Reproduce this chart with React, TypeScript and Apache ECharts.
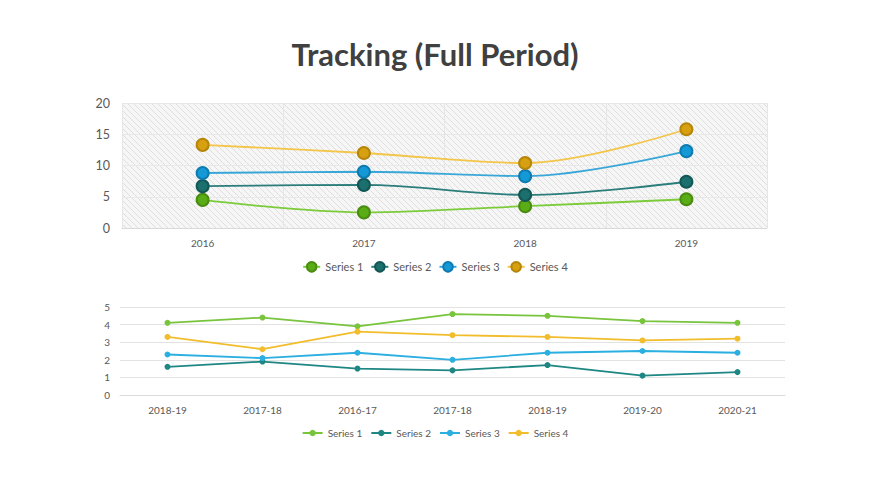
import React, { useEffect, useRef } from "react";
import * as echarts from "echarts";

const topCategories = ["2016", "2017", "2018", "2019"];
const topS1 = [4.5, 2.5, 3.5, 4.6];
const topS2 = [6.7, 6.9, 5.3, 7.4];
const topS3 = [8.8, 9.0, 8.3, 12.3];
const topS4 = [13.3, 12.0, 10.4, 15.8];

const bottomCategories = ["2018-19", "2017-18", "2016-17", "2017-18", "2018-19", "2019-20", "2020-21"];
const botS1 = [4.1, 4.4, 3.9, 4.6, 4.5, 4.2, 4.1];
const botS2 = [1.6, 1.9, 1.5, 1.4, 1.7, 1.1, 1.3];
const botS3 = [2.3, 2.1, 2.4, 2.0, 2.4, 2.5, 2.4];
const botS4 = [3.3, 2.6, 3.6, 3.4, 3.3, 3.1, 3.2];

const seriesNames = ["Series 1", "Series 2", "Series 3", "Series 4"];

const FONT = "Lato, 'Open Sans', sans-serif";

function makeHatch() {
  const c = document.createElement("canvas");
  c.width = 6;
  c.height = 6;
  const ctx = c.getContext("2d")!;
  ctx.fillStyle = "#f6f6f6";
  ctx.fillRect(0, 0, 6, 6);
  ctx.strokeStyle = "#dedede";
  ctx.lineWidth = 1;
  ctx.beginPath();
  ctx.moveTo(0, 0);
  ctx.lineTo(6, 6);
  ctx.moveTo(-3, 3);
  ctx.lineTo(3, 9);
  ctx.moveTo(3, -3);
  ctx.lineTo(9, 3);
  ctx.stroke();
  return c;
}

export default function App() {
  const topRef = useRef<HTMLDivElement>(null);
  const botRef = useRef<HTMLDivElement>(null);

  useEffect(() => {
    const top = echarts.init(topRef.current!, undefined, { renderer: "svg" });
    const bot = echarts.init(botRef.current!, undefined, { renderer: "svg" });

    const topStyles = [
      { line: "#7ccb3a", fill: "#5aac16", border: "#4a8c0f" },
      { line: "#2a7d7a", fill: "#1b6f6d", border: "#125756" },
      { line: "#38a7d8", fill: "#1599d6", border: "#0d7bb0" },
      { line: "#f3c549", fill: "#d6a010", border: "#b5860a" },
    ];
    const topData = [topS1, topS2, topS3, topS4];

    top.setOption({
      animation: false,
      title: {
        text: "Tracking (Full Period)",
        left: "center",
        top: 33,
        textStyle: { fontFamily: FONT, fontSize: 31, fontWeight: "bold", color: "#404040" },
      },
      legend: {
        data: seriesNames,
        top: 256,
        left: "center",
        itemWidth: 17,
        itemHeight: 12,
        itemGap: 7,
        textStyle: { fontFamily: FONT, fontSize: 11, color: "#595959" },
      },
      grid: {
        left: 122,
        right: 103,
        top: 103,
        height: 125,
        show: true,
        borderWidth: 0,
        backgroundColor: { image: makeHatch(), repeat: "repeat" } as any,
      },
      xAxis: {
        type: "category",
        data: topCategories,
        boundaryGap: true,
        axisLine: { lineStyle: { color: "#d9d9d9" } },
        axisTick: { show: false },
        axisLabel: { fontFamily: FONT, fontSize: 10, color: "#595959", margin: 10 },
        splitLine: { show: true, lineStyle: { color: "#e6e6e6" } },
      },
      yAxis: {
        type: "value",
        min: 0,
        max: 20,
        interval: 5,
        axisLine: { show: false },
        axisTick: { show: false },
        axisLabel: { fontFamily: FONT, fontSize: 12.5, color: "#595959", margin: 12 },
        splitLine: { lineStyle: { color: "#e8e8e8" } },
      },
      series: topData.map((d, i) => ({
        name: seriesNames[i],
        type: "line",
        data: d,
        smooth: 0.35,
        symbol: "circle",
        symbolSize: 12,
        lineStyle: { color: topStyles[i].line, width: 1.8 },
        itemStyle: { color: topStyles[i].fill, borderColor: topStyles[i].border, borderWidth: 2 },
      })),
    });

    const botColors = ["#78c43c", "#1e8783", "#2bafe0", "#f2bd2c"];
    const botData = [botS1, botS2, botS3, botS4];

    bot.setOption({
      animation: false,
      legend: {
        data: seriesNames,
        top: 143,
        left: "center",
        itemWidth: 20,
        itemHeight: 8,
        itemGap: 8,
        textStyle: { fontFamily: FONT, fontSize: 10, color: "#595959" },
      },
      grid: { left: 120, right: 85, top: 27, height: 88 },
      xAxis: {
        type: "category",
        data: bottomCategories,
        boundaryGap: true,
        axisLine: { lineStyle: { color: "#d9d9d9" } },
        axisTick: { show: false },
        axisLabel: { fontFamily: FONT, fontSize: 10, color: "#595959", margin: 10 },
      },
      yAxis: {
        type: "value",
        min: 0,
        max: 5,
        interval: 1,
        axisLine: { show: false },
        axisTick: { show: false },
        axisLabel: { fontFamily: FONT, fontSize: 10, color: "#595959", margin: 10 },
        splitLine: { lineStyle: { color: "#e3e3e3" } },
      },
      series: botData.map((d, i) => ({
        name: seriesNames[i],
        type: "line",
        data: d,
        symbol: "circle",
        symbolSize: 6,
        lineStyle: { color: botColors[i], width: 1.8 },
        itemStyle: { color: botColors[i] },
      })),
    });

    return () => {
      top.dispose();
      bot.dispose();
    };
  }, []);

  return (
    <div style={{ position: "fixed", left: 0, top: 0, width: 870, height: 489, background: "#fff" }}>
      <div ref={topRef} style={{ position: "absolute", left: 0, top: 0, width: 870, height: 280 }} />
      <div ref={botRef} style={{ position: "absolute", left: 0, top: 280, width: 870, height: 209 }} />
    </div>
  );
}
